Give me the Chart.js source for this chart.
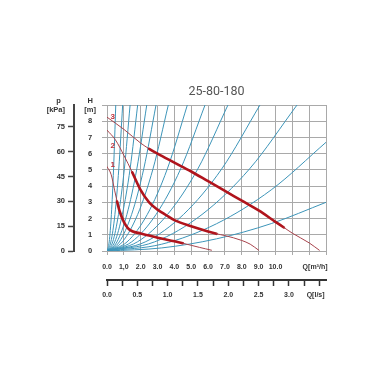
<!DOCTYPE html>
<html>
<head>
<meta charset="utf-8">
<script src="https://cdn.jsdelivr.net/npm/chart.js@4.4.0/dist/chart.umd.min.js"></script>
<style>
  html, body { margin: 0; padding: 0; background: #fff; }
</style>
</head>
<body>
<canvas id="chart" width="380" height="380"></canvas>
<script>
// pump curves, flow Q [m3/h] against head H [m]
const pump1Q = [0, 0.25, 0.45, 0.6, 0.75, 1.0, 1.25, 1.5, 2, 2.5, 3, 4, 4.5, 5, 5.5, 6.2];
const pump1H = [5.2, 4.7, 3.75, 3.05, 2.45, 1.8, 1.4, 1.22, 1.08, 0.95, 0.82, 0.6, 0.48, 0.35, 0.22, 0.05];
const pump2Q = [0, 0.5, 1.0, 1.5, 2.0, 2.5, 3, 3.5, 4, 5, 6, 6.5, 7, 8, 8.5, 9.0];
const pump2H = [7.45, 6.85, 5.9, 4.85, 3.75, 3.0, 2.55, 2.22, 1.9, 1.52, 1.2, 1.06, 0.95, 0.65, 0.42, 0.05];
const pump3Q = [0, 1, 2, 2.5, 3, 4, 5, 6, 7, 8, 9, 10, 10.5, 11, 12, 12.6];
const pump3H = [8.25, 7.5, 6.65, 6.3, 6.0, 5.45, 4.9, 4.3, 3.7, 3.1, 2.5, 1.8, 1.45, 1.1, 0.5, 0.05];
// part of each pump curve drawn heavy
const thickFrom = [0.6, 1.5, 2.5];
const thickTo = [4.5, 6.5, 10.5];
const curveNames = ['1', '2', '3'];
const nameQ = [0.34, 0.34, 0.34];
const nameH = [5.3, 6.5, 8.27];

// system curves, [Q, H] points
const systemCurves = [
    [[0, 0], [0.13, 0.56], [0.26, 2.25], [0.39, 5.06], [0.52, 9]],
    [[0, 0], [0.23, 0.56], [0.47, 2.25], [0.70, 5.06], [0.93, 9]],
    [[0, 0], [0.34, 0.56], [0.68, 2.25], [1.03, 5.06], [1.37, 9]],
    [[0, 0], [0.46, 0.56], [0.91, 2.25], [1.37, 5.06], [1.82, 9]],
    [[0, 0], [0.59, 0.56], [1.18, 2.25], [1.77, 5.06], [2.36, 9]],
    [[0, 0], [0.73, 0.56], [1.46, 2.25], [2.18, 5.06], [2.91, 9]],
    [[0, 0], [0.91, 0.56], [1.82, 2.25], [2.73, 5.06], [3.64, 9]],
    [[0, 0], [1.19, 0.56], [2.39, 2.25], [3.58, 5.06], [4.77, 9]],
    [[0, 0], [1.46, 0.56], [2.91, 2.25], [4.37, 5.06], [5.82, 9]],
    [[0, 0], [1.80, 0.56], [3.59, 2.25], [5.39, 5.06], [7.18, 9]],
    [[0, 0], [2.27, 0.56], [4.54, 2.25], [6.81, 5.06], [9.08, 9]],
    [[0, 0], [2.82, 0.56], [5.64, 2.25], [8.46, 5.06], [11.28, 9]],
    [[0, 0], [3.25, 0.42], [6.5, 1.68], [9.75, 3.77], [13, 6.7]],
    [[0, 0], [3.25, 0.19], [6.5, 0.75], [9.75, 1.69], [13, 3.0]]
];

// axis ticks
const qTickValues = [0, 1, 2, 3, 4, 5, 6, 7, 8, 9, 10, 11, 12, 12.35, 13];
const qTickLabels = ['0.0', '1,0', '2.0', '3.0', '4.0', '5.0', '6.0', '7.0', '8.0', '9.0', '10.0', '', '', 'Q[m³/h]', ''];
const lsTickValues = [0, 0.25, 0.5, 0.75, 1, 1.25, 1.5, 1.75, 2, 2.25, 2.5, 2.75, 3, 3.25, 3.44, 3.5];
const lsTickLabels = ['0.0', '', '0.5', '', '1.0', '', '1.5', '', '2.0', '', '2.5', '', '3.0', '', 'Q[l/s]', ''];
const headTicks = [0, 1, 2, 3, 4, 5, 6, 7, 8, 9];
const kpaTicks = [0, 15, 30, 45, 60, 75];

const kpaTop = 9 * 9.81;
const qTitleAt = 12.35;
const lsTitleAt = 3.44;
const clear = 'rgba(0,0,0,0)';
const gridGray = '#a9a9a9';
const labelFont = { family: '"Liberation Sans", Arial, sans-serif', size: 7, weight: 'bold' };

const pumps = [
    { q: pump1Q, h: pump1H },
    { q: pump2Q, h: pump2H },
    { q: pump3Q, h: pump3H }
];

function inThick(i, c) {
    const q = pumps[i].q;
    return q[c.p0DataIndex] >= thickFrom[i] && q[c.p1DataIndex] <= thickTo[i];
}

const datasets = [];
pumps.forEach((p, i) => {
    datasets.push({
        data: p.q.map((q, j) => ({ x: q, y: p.h[j] })),
        borderColor: '#a8434c',
        borderWidth: 1,
        pointRadius: 0,
        cubicInterpolationMode: 'monotone',
        borderCapStyle: 'round',
        order: 0,
        segment: {
            borderWidth: c => inThick(i, c) ? 2.6 : 1,
            borderColor: c => inThick(i, c) ? '#b0141c' : '#a8434c'
        }
    });
});
systemCurves.forEach(pts => {
    datasets.push({
        data: pts.map(p => ({ x: p[0], y: p[1] })),
        borderColor: '#3d95b9',
        borderWidth: 1,
        pointRadius: 0,
        cubicInterpolationMode: 'monotone',
        order: 1
    });
});

// little red curve numbers at the left
const curveLabelPlugin = {
    id: 'curveLabels',
    afterDatasetsDraw(chart) {
        const { ctx, scales: { x, y } } = chart;
        ctx.save();
        ctx.font = 'bold 8px "Liberation Sans", Arial, sans-serif';
        ctx.fillStyle = '#c0303a';
        ctx.textAlign = 'center';
        ctx.textBaseline = 'middle';
        curveNames.forEach((t, i) => {
            ctx.fillText(t, x.getPixelForValue(nameQ[i]), y.getPixelForValue(nameH[i]));
        });
        ctx.restore();
    }
};

new Chart(document.getElementById('chart'), {
    type: 'line',
    data: { datasets: datasets },
    plugins: [curveLabelPlugin],
    options: {
        responsive: false,
        animation: false,
        layout: { padding: { left: 0, right: 54, top: 0, bottom: 74 } },
        plugins: {
            legend: { display: false },
            tooltip: { enabled: false },
            title: {
                display: true,
                text: '25-80-180',
                fullSize: false,
                color: '#555',
                font: { family: 'Roboto', size: 12.5, weight: 'normal' },
                padding: { top: 84, bottom: 6 }
            }
        },
        scales: {
            x: {
                type: 'linear', position: 'bottom', min: 0, max: 13, weight: 0,
                afterBuildTicks: s => { s.ticks = qTickValues.map(v => ({ value: v })); },
                afterFit: s => { s.height = 29; },
                ticks: {
                    autoSkip: false, maxRotation: 0, padding: 8, color: '#333', font: labelFont,
                    callback: (v, i) => qTickLabels[i]
                },
                grid: {
                    color: c => c.tick && c.tick.value === qTitleAt ? clear : gridGray,
                    tickLength: 4
                },
                border: { color: gridGray }
            },
            ls: {
                type: 'linear', axis: 'x', position: 'bottom', min: 0, max: 13 / 3.6, weight: 1,
                afterBuildTicks: s => { s.ticks = lsTickValues.map(v => ({ value: v })); },
                afterFit: s => { s.height = 26; },
                ticks: {
                    autoSkip: false, maxRotation: 0, padding: 5, color: '#333', font: labelFont,
                    callback: (v, i) => lsTickLabels[i]
                },
                grid: {
                    drawOnChartArea: false,
                    tickLength: 6,
                    tickWidth: 1.5,
                    tickColor: c => c.tick && c.tick.value === lsTitleAt ? clear : '#333'
                },
                border: { color: '#333', width: 2 }
            },
            y: {
                type: 'linear', position: 'left', min: 0, max: 9, weight: 0,
                afterBuildTicks: s => { s.ticks = headTicks.map(v => ({ value: v })); },
                afterFit: s => { s.width = 33; },
                ticks: {
                    autoSkip: false, crossAlign: 'center', padding: 6, color: '#333',
                    font: { family: '"Liberation Sans", Arial, sans-serif', size: 7.5, weight: 'bold' },
                    callback: v => v === 9 ? ['H', '[m]'] : String(v)
                },
                grid: { color: gridGray, tickLength: 5 },
                border: { color: gridGray }
            },
            kpa: {
                type: 'linear', axis: 'y', position: 'left', min: 0, max: kpaTop, weight: 1,
                afterBuildTicks: s => { s.ticks = kpaTicks.concat([kpaTop]).map(v => ({ value: v })); },
                afterFit: s => { s.width = 74; },
                ticks: {
                    autoSkip: false, crossAlign: 'near', padding: 3, color: '#333',
                    font: { family: '"Liberation Sans", Arial, sans-serif', size: 7.5, weight: 'bold' },
                    callback: v => v === kpaTop ? ['p  ', '[kPa]'] : String(v)
                },
                grid: {
                    drawOnChartArea: false,
                    tickLength: 6,
                    tickWidth: 1.5,
                    tickColor: c => c.tick && c.tick.value === kpaTop ? clear : '#444'
                },
                border: { color: '#444', width: 2 }
            }
        }
    }
});
</script>
</body>
</html>
